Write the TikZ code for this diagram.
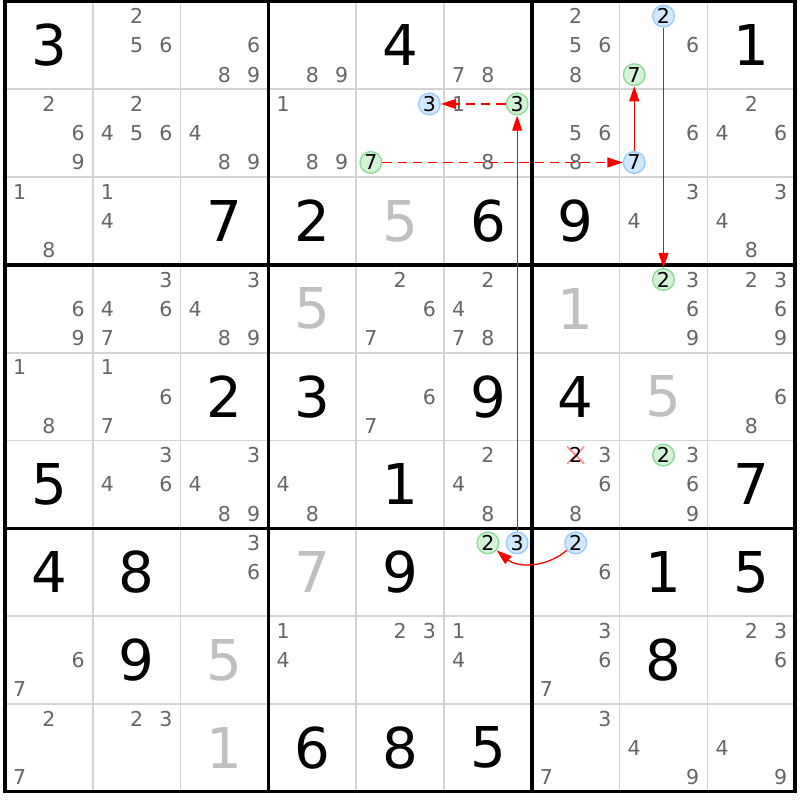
\documentclass[tikz,border=0pt]{standalone}
\usepackage{fontspec}
\setmainfont{DejaVu Sans}
\usetikzlibrary{arrows.meta}

\definecolor{candgrey}{HTML}{666666}
\definecolor{solvedgrey}{HTML}{C0C0C0}
\definecolor{gridgrey}{HTML}{D4D4D4}
\definecolor{bluefill}{HTML}{D2E8FF}
\definecolor{blueline}{HTML}{9CCBFF}
\definecolor{greenfill}{HTML}{D4F2D6}
\definecolor{greenline}{HTML}{8EDB9C}
\definecolor{crossred}{HTML}{FF9090}

\newcommand\candpos[3]{%
  \pgfmathsetmacro\px{\ox+(#2-0.5)*\cs+(mod(#3-1,3)-1)*\cs/3}%
  \pgfmathsetmacro\py{\oy+(#1-0.5)*\cs+(int((#3-1)/3)-1)*\cs/3}}

\begin{document}
\begin{tikzpicture}[x=0.03cm,y=-0.03cm,
  given/.style={font=\fontsize{48}{50}\selectfont, inner sep=0pt},
  solved/.style={given, text=solvedgrey},
  cand/.style={font=\fontsize{17.5}{18}\selectfont, text=candgrey, inner sep=0pt},
  bluecand/.style={cand, text=black, circle, draw=blueline, fill=bluefill, line width=1.2pt, minimum size=18.5pt},
  greencand/.style={bluecand, draw=greenline, fill=greenfill},
  crossed/.style={cand, text=black, fill=white, minimum size=15pt,
    path picture={\draw[crossred, line width=1.6pt]
      (path picture bounding box.north west) -- (path picture bounding box.south east)
      (path picture bounding box.north east) -- (path picture bounding box.south west);}},
  link/.style={red, line width=1.1pt, -{Triangle[length=13pt,width=8.5pt]}},
  weak/.style={link, dash pattern=on 8pt off 5pt}]
  \tikzstyle{thin grid}=[gridgrey, line width=1.5pt]
  \tikzstyle{box grid}=[black, line width=3pt]
  \def\cs{87.8}
  \def\ox{5}
  \def\oy{1.5}

  \fill[white] (0,0) rectangle (800,800);
  \useasboundingbox (0,0) rectangle (800,800);

  \foreach \i in {1,2,4,5,7,8} {
    \draw[thin grid] (\ox+\i*\cs,\oy) -- (\ox+\i*\cs,\oy+9*\cs);
    \draw[thin grid] (\ox,\oy+\i*\cs) -- (\ox+9*\cs,\oy+\i*\cs);
  }
  \foreach \i in {3,6} {
    \draw[box grid] (\ox+\i*\cs,\oy) -- (\ox+\i*\cs,\oy+9*\cs);
    \draw[box grid] (\ox,\oy+\i*\cs) -- (\ox+9*\cs,\oy+\i*\cs);
  }
  \draw[box grid] (\ox,\oy) rectangle (\ox+9*\cs,\oy+9*\cs);

  \foreach \r/\c/\v in {1/1/3, 1/5/4, 1/9/1, 3/3/7, 3/4/2, 3/6/6, 3/7/9,
      5/3/2, 5/4/3, 5/6/9, 5/7/4, 6/1/5, 6/5/1, 6/9/7, 7/1/4, 7/2/8,
      7/5/9, 7/8/1, 7/9/5, 8/2/9, 8/8/8, 9/4/6, 9/5/8, 9/6/5}
    \node[given] (g-\r-\c) at (\ox+\c*\cs-\cs/2,\oy+\r*\cs-\cs/2) {\v};
  \foreach \r/\c/\v in {3/5/5, 4/4/5, 4/7/1, 5/8/5, 7/4/7, 8/3/5, 9/3/1}
    \node[solved] (g-\r-\c) at (\ox+\c*\cs-\cs/2,\oy+\r*\cs-\cs/2) {\v};

  \foreach \r/\c/\ks in {1/2/{2,5,6}, 1/3/{6,8,9}, 1/4/{8,9}, 1/6/{7,8},
      1/7/{2,5,6,8}, 1/8/{6}, 2/1/{2,6,9}, 2/2/{2,4,5,6}, 2/3/{4,8,9},
      2/4/{1,8,9}, 2/6/{1,8}, 2/7/{5,6,8}, 2/8/{6}, 2/9/{2,4,6},
      3/1/{1,8}, 3/2/{1,4}, 3/8/{3,4}, 3/9/{3,4,8}, 4/1/{6,9},
      4/2/{3,4,6,7}, 4/3/{3,4,8,9}, 4/5/{2,6,7}, 4/6/{2,4,7,8},
      4/8/{3,6,9}, 4/9/{2,3,6,9}, 5/1/{1,8}, 5/2/{1,6,7}, 5/5/{6,7},
      5/9/{6,8}, 6/2/{3,4,6}, 6/3/{3,4,8,9}, 6/4/{4,8}, 6/6/{2,4,8},
      6/7/{3,6,8}, 6/8/{3,6,9}, 7/3/{3,6}, 7/7/{6}, 8/1/{6,7},
      8/4/{1,4}, 8/5/{2,3}, 8/6/{1,4}, 8/7/{3,6,7}, 8/9/{2,3,6},
      9/1/{2,7}, 9/2/{2,3}, 9/7/{3,7}, 9/8/{4,9}, 9/9/{4,9}} {
    \foreach \k in \ks {
      \candpos{\r}{\c}{\k}
      \node[cand] (n-\r-\c-\k) at (\px,\py) {\k};
    }
  }

  \foreach \r/\c/\k in {1/8/2, 2/5/3, 2/8/7, 7/6/3, 7/7/2} {
    \candpos{\r}{\c}{\k}
    \node[bluecand] (n-\r-\c-\k) at (\px,\py) {\k};
  }
  \foreach \r/\c/\k in {1/8/7, 2/5/7, 2/6/3, 4/8/2, 6/8/2, 7/6/2} {
    \candpos{\r}{\c}{\k}
    \node[greencand] (n-\r-\c-\k) at (\px,\py) {\k};
  }
  \candpos{6}{7}{2}
  \node[crossed] (n-6-7-2) at (\px,\py) {2};

  \draw[link] (n-1-8-2) -- (n-4-8-2);
  \draw[link] (n-2-8-7) -- (n-1-8-7);
  \draw[weak] (n-2-5-7) -- (n-2-8-7);
  \draw[weak] (n-2-6-3) -- (n-2-5-3);
  \draw[link] (n-7-6-3) -- (n-2-6-3);
  \draw[link] (n-7-7-2) to[bend left=40] (n-7-6-2);
\end{tikzpicture}
\end{document}
